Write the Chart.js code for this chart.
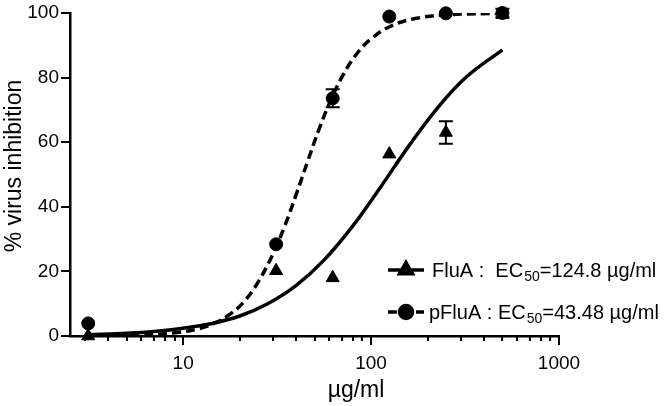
<!DOCTYPE html>
<html>
<head>
<meta charset="utf-8">
<script src="https://cdn.jsdelivr.net/npm/chart.js@4.4.1/dist/chart.umd.min.js"></script>
<style>
  html, body { margin: 0; padding: 0; background: #fff; }
  canvas { display: block; }
</style>
</head>
<body>
<canvas id="chart" width="666" height="406"></canvas>
<script>
// measured points (mean, error bar)
const doses = [3.125, 31.25, 62.5, 125, 250, 500];
const fluaMean = [0, 20.2, 18.0, 56.3, 63.0, 99.5];
const fluaErr = [0, 0, 0, 0, 3.5, 0];
const pfluaMean = [3.9, 28.4, 73.6, 98.9, 99.9, 100];
const pfluaErr = [0, 0, 2.8, 0, 0, 1.3];

// fitted curves
const fluaFitX = [3.125, 5, 7, 10, 14, 20, 28, 40, 56, 80, 112, 160, 225, 320, 500];
const fluaFitY = [0.4, 0.85, 1.4, 2.4, 3.8, 6.2, 9.9, 15.7, 23.4, 34.1, 46.0, 59.1, 70.5, 80.1, 88.6];
const pfluaFitX = [3.125, 6, 9, 12, 15, 18, 21, 25, 30, 35, 40, 46, 53, 61, 70, 82, 100, 130, 180, 260, 500];
const pfluaFitY = [0.1, 0.3, 1.0, 2.2, 4.2, 7.0, 10.5, 16.6, 25.3, 34.6, 43.9, 54.1, 64.2, 73.0, 80.2, 86.6, 92.0, 96.2, 98.5, 99.5, 99.9];

// axes
const xMajorTicks = [10, 100, 1000];
const xMinorTicks = [3, 4, 5, 6, 7, 8, 9, 20, 30, 40, 50, 60, 70, 80, 90, 200, 300, 400, 500, 600, 700, 800, 900];
const yTicks = [0, 20, 40, 60, 80, 100];
const xTitle = 'µg/ml';
const yTitle = '% virus inhibition';

// legend
const legendNames = ['FluA :  EC', 'pFluA : EC'];
const legendSub = ['50', '50'];
const legendValues = ['=124.8 µg/ml', '=43.48 µg/ml'];

const FONT = "'Liberation Sans', Arial, Helvetica, sans-serif";
const DASH = [9, 5];

const toXY = (xs, ys) => xs.map((x, i) => ({ x: x, y: ys[i] }));

// tick marks: major long, minor short, all outside
const tickMarks = {
    id: 'tickMarks',
    afterDraw(chart) {
        const ctx = chart.ctx;
        const xs = chart.scales.x;
        const ys = chart.scales.y;
        const bottom = chart.chartArea.bottom;
        const left = chart.chartArea.left;
        ctx.save();
        ctx.strokeStyle = '#000';
        ctx.lineWidth = 2;
        ctx.beginPath();
        xMajorTicks.forEach(v => {
            const px = Math.round(xs.getPixelForValue(v));
            ctx.moveTo(px, bottom);
            ctx.lineTo(px, bottom + 9);
        });
        xMinorTicks.forEach(v => {
            const px = Math.round(xs.getPixelForValue(v));
            ctx.moveTo(px, bottom);
            ctx.lineTo(px, bottom + 5);
        });
        yTicks.forEach(v => {
            const py = Math.round(ys.getPixelForValue(v));
            ctx.moveTo(left, py);
            ctx.lineTo(left - 9, py);
        });
        ctx.stroke();

        // axis titles
        ctx.fillStyle = '#000';
        ctx.font = '23px ' + FONT;
        ctx.textAlign = 'center';
        ctx.textBaseline = 'alphabetic';
        ctx.fillText(xTitle, 356, 397);
        ctx.save();
        ctx.translate(21, 166);
        ctx.rotate(-Math.PI / 2);
        ctx.fillText(yTitle, 0, 0);
        ctx.restore();
        ctx.restore();
    }
};

// error bars with caps
const errorBars = {
    id: 'errorBars',
    afterDatasetsDraw(chart) {
        const ctx = chart.ctx;
        const xs = chart.scales.x;
        const ys = chart.scales.y;
        ctx.save();
        ctx.strokeStyle = '#000';
        ctx.lineWidth = 2;
        [[fluaMean, fluaErr], [pfluaMean, pfluaErr]].forEach(([m, e]) => {
            doses.forEach((d, i) => {
                if (!e[i]) return;
                const px = xs.getPixelForValue(d);
                const top = ys.getPixelForValue(m[i] + e[i]);
                const bot = ys.getPixelForValue(m[i] - e[i]);
                ctx.beginPath();
                ctx.moveTo(px, top); ctx.lineTo(px, bot);
                ctx.moveTo(px - 7, top); ctx.lineTo(px + 7, top);
                ctx.moveTo(px - 7, bot); ctx.lineTo(px + 7, bot);
                ctx.stroke();
            });
        });
        ctx.restore();
    }
};

// legend with subscript
const customLegend = {
    id: 'customLegend',
    afterDraw(chart) {
        const ctx = chart.ctx;
        const rows = [
            { y: 270, textX: 432, dash: [], style: 'triangle', r: 7.5 },
            { y: 312, textX: 429, dash: DASH, style: 'circle', r: 6.5 }
        ];
        ctx.save();
        rows.forEach((row, i) => {
            ctx.strokeStyle = '#000';
            ctx.fillStyle = '#000';
            ctx.lineWidth = 3.5;
            ctx.setLineDash(row.dash);
            ctx.beginPath();
            ctx.moveTo(388, row.y);
            ctx.lineTo(424, row.y);
            ctx.stroke();
            ctx.setLineDash([]);
            Chart.helpers.drawPoint(ctx, { pointStyle: row.style, radius: row.r, rotation: 0, borderWidth: 1 }, 406, row.y);

            let x = row.textX;
            const base = row.y + 7;
            ctx.textAlign = 'left';
            ctx.textBaseline = 'alphabetic';
            ctx.font = '20px ' + FONT;
            ctx.fillText(legendNames[i], x, base);
            x += ctx.measureText(legendNames[i]).width + 1;
            ctx.font = '14px ' + FONT;
            ctx.fillText(legendSub[i], x, base + 4);
            x += ctx.measureText(legendSub[i]).width;
            ctx.font = '20px ' + FONT;
            ctx.fillText(legendValues[i], x, base);
        });
        ctx.restore();
    }
};

new Chart(document.getElementById('chart'), {
    type: 'line',
    data: {
        datasets: [
            {
                label: 'FluA',
                data: toXY(doses, fluaMean),
                showLine: false,
                pointStyle: 'triangle',
                pointRadius: 7.5,
                pointBackgroundColor: '#000',
                pointBorderColor: '#000',
                pointBorderWidth: 1,
                clip: false,
                order: 0
            },
            {
                label: 'pFluA',
                data: toXY(doses, pfluaMean),
                showLine: false,
                pointStyle: 'circle',
                pointRadius: 6.5,
                pointBackgroundColor: '#000',
                pointBorderColor: '#000',
                pointBorderWidth: 1,
                clip: false,
                order: 0
            },
            {
                label: 'FluA fit',
                data: toXY(fluaFitX, fluaFitY),
                borderColor: '#000',
                borderWidth: 3.5,
                pointRadius: 0,
                tension: 0.4,
                fill: false,
                order: 1
            },
            {
                label: 'pFluA fit',
                data: toXY(pfluaFitX, pfluaFitY),
                borderColor: '#000',
                borderWidth: 3.5,
                borderDash: DASH,
                pointRadius: 0,
                tension: 0.4,
                fill: false,
                order: 1
            }
        ]
    },
    options: {
        responsive: false,
        animation: false,
        devicePixelRatio: 1,
        layout: { padding: { left: 0, right: 107, top: 13, bottom: 0 } },
        plugins: {
            legend: { display: false },
            tooltip: { enabled: false }
        },
        scales: {
            x: {
                type: 'logarithmic',
                min: 2.5,
                max: 1000,
                border: { display: true, color: '#000', width: 2.5 },
                grid: { display: false, drawTicks: false },
                afterBuildTicks: s => { s.ticks = xMajorTicks.map(v => ({ value: v, major: true })); },
                afterFit: s => { s.height = 70; s.paddingLeft = 0; s.paddingRight = 0; },
                ticks: {
                    autoSkip: false,
                    maxRotation: 0,
                    padding: 16,
                    color: '#000',
                    font: { family: FONT, size: 19 },
                    callback: v => String(v)
                }
            },
            y: {
                min: 0,
                max: 100,
                border: { display: true, color: '#000', width: 2.5 },
                grid: { display: false, drawTicks: false },
                afterBuildTicks: s => { s.ticks = yTicks.map(v => ({ value: v })); },
                afterFit: s => { s.width = 70; s.paddingTop = 0; s.paddingBottom = 0; },
                ticks: {
                    padding: 11,
                    color: '#000',
                    font: { family: FONT, size: 19 },
                    callback: v => String(v)
                }
            }
        }
    },
    plugins: [tickMarks, errorBars, customLegend]
});
</script>
</body>
</html>
